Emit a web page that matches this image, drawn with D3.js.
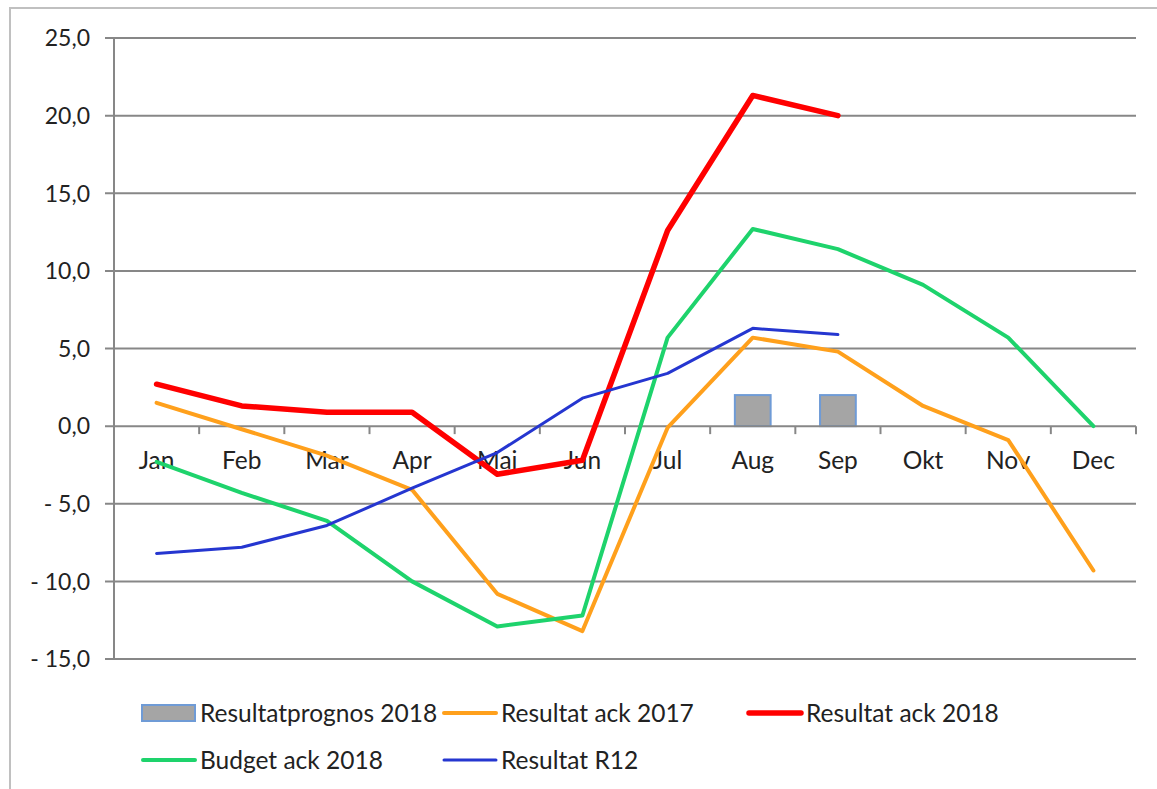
<!DOCTYPE html>
<html>
<head>
<meta charset="utf-8">
<script src="https://cdn.jsdelivr.net/npm/d3@7"></script>
<style>
  body { margin: 0; background: #fff; }
  svg { font-family: Lato, "Noto Sans", sans-serif; }
</style>
</head>
<body>
<div id="chart"></div>
<script>
const months = ["Jan", "Feb", "Mar", "Apr", "Maj", "Jun", "Jul", "Aug", "Sep", "Okt", "Nov", "Dec"];
const yTicks = [-15, -10, -5, 0, 5, 10, 15, 20, 25];

// Resultatprognos 2018 (bars)
const prognos = [null, null, null, null, null, null, null, 2.0, 2.0, null, null, null];
const ack2017 = [1.5, -0.2, -1.9, -4.1, -10.8, -13.2, -0.1, 5.7, 4.8, 1.3, -0.9, -9.3];
const ack2018 = [2.7, 1.3, 0.9, 0.9, -3.1, -2.2, 12.6, 21.3, 20.0, null, null, null];
const budget2018 = [-2.3, -4.3, -6.1, -10.0, -12.9, -12.2, 5.7, 12.7, 11.4, 9.1, 5.7, 0.0];
const r12 = [-8.2, -7.8, -6.4, -4.0, -1.7, 1.8, 3.4, 6.3, 5.9, null, null, null];

const width = 1157, height = 789;
const plotL = 114, plotR = 1136, plotT = 38, plotB = 659;

const svg = d3.select("#chart")
    .append("svg")
    .attr("width", width)
    .attr("height", height);

// chart border
svg.append("rect")
    .attr("x", 10).attr("y", 8)
    .attr("width", 1160).attr("height", 800)
    .attr("fill", "none")
    .attr("stroke", "#c0c0c0")
    .attr("stroke-width", 2);

const x = d3.scaleBand().domain(months).range([plotL, plotR]).padding(0);
const y = d3.scaleLinear().domain([-15, 25]).range([plotB, plotT]);

const fmt = v => (v < 0 ? "- " : "") + d3.format(".1f")(Math.abs(v)).replace(".", ",");

// Gridlines + y labels
const yAxis = svg.append("g");
yTicks.forEach(t => {
    if (t !== 0) {
        yAxis.append("line")
            .attr("x1", plotL - 9).attr("x2", plotR)
            .attr("y1", y(t)).attr("y2", y(t))
            .attr("stroke", "#878787").attr("stroke-width", 2);
    }
    yAxis.append("text")
        .attr("x", 90).attr("y", y(t))
        .attr("dy", "0.36em")
        .attr("text-anchor", "end")
        .attr("font-size", "23px")
        .attr("fill", "#222")
        .text(fmt(t));
});

// vertical axis
svg.append("line")
    .attr("x1", plotL).attr("x2", plotL)
    .attr("y1", plotT).attr("y2", plotB)
    .attr("stroke", "#878787").attr("stroke-width", 2);

// x labels
svg.append("g").selectAll("text")
    .data(months)
    .enter()
    .append("text")
    .attr("x", d => x(d) + x.bandwidth() / 2)
    .attr("y", y(0) + 43)
    .attr("text-anchor", "middle")
    .attr("font-size", "24.5px")
    .attr("fill", "#222")
    .text(d => d);

// Bars
const barW = x.bandwidth() * 0.42;
svg.append("g").selectAll("rect")
    .data(months.map((m, i) => ({ m, v: prognos[i] })).filter(d => d.v !== null))
    .enter()
    .append("rect")
    .attr("x", d => x(d.m) + (x.bandwidth() - barW) / 2)
    .attr("y", d => y(d.v))
    .attr("width", barW)
    .attr("height", d => y(0) - y(d.v))
    .attr("fill", "#a5a5a5")
    .attr("stroke", "#6f9bd6")
    .attr("stroke-width", 2);

// x axis line with ticks
svg.append("line")
    .attr("x1", plotL - 9).attr("x2", plotR)
    .attr("y1", y(0)).attr("y2", y(0))
    .attr("stroke", "#878787").attr("stroke-width", 2);
svg.append("g").selectAll("line")
    .data(months.slice(1).concat(["end"]))
    .enter()
    .append("line")
    .attr("x1", d => d === "end" ? plotR : x(d))
    .attr("x2", d => d === "end" ? plotR : x(d))
    .attr("y1", y(0)).attr("y2", y(0) + 8)
    .attr("stroke", "#878787").attr("stroke-width", 2);

// Lines
const series = [
    { name: "Resultat ack 2017", values: ack2017, color: "#ffa01c", w: 4 },
    { name: "Resultat ack 2018", values: ack2018, color: "#ff0000", w: 5.5 },
    { name: "Budget ack 2018", values: budget2018, color: "#1ed36c", w: 4 },
    { name: "Resultat R12", values: r12, color: "#2536d0", w: 3 }
];

const line = d3.line()
    .defined(d => d.v !== null)
    .x(d => x(d.m) + x.bandwidth() / 2)
    .y(d => y(d.v));

series.forEach(s => {
    svg.append("path")
        .datum(months.map((m, i) => ({ m, v: s.values[i] })))
        .attr("d", line)
        .attr("fill", "none")
        .attr("stroke", s.color)
        .attr("stroke-width", s.w)
        .attr("stroke-linejoin", "round")
        .attr("stroke-linecap", "round");
});

// Legend
const legend = svg.append("g");
const leg = [
    { name: "Resultatprognos 2018", type: "bar", x: 142, y: 713 },
    { name: series[0].name, s: series[0], x: 443, y: 713 },
    { name: series[1].name, s: series[1], x: 748, y: 713 },
    { name: series[2].name, s: series[2], x: 142, y: 760 },
    { name: series[3].name, s: series[3], x: 443, y: 760 }
];
leg.forEach(d => {
    const g = legend.append("g").attr("transform", `translate(${d.x},${d.y})`);
    if (d.type === "bar") {
        g.append("rect").attr("x", 0).attr("y", -8).attr("width", 53).attr("height", 16)
            .attr("fill", "#a5a5a5").attr("stroke", "#6f9bd6").attr("stroke-width", 2);
    } else {
        g.append("line").attr("x1", 1).attr("x2", 53).attr("y1", 0).attr("y2", 0)
            .attr("stroke", d.s.color).attr("stroke-width", d.s.w)
            .attr("stroke-linecap", "round");
    }
    g.append("text").attr("x", 58).attr("y", 0).attr("dy", "0.36em")
        .attr("font-size", "24.5px").attr("fill", "#222").text(d.name);
});
</script>
</body>
</html>
